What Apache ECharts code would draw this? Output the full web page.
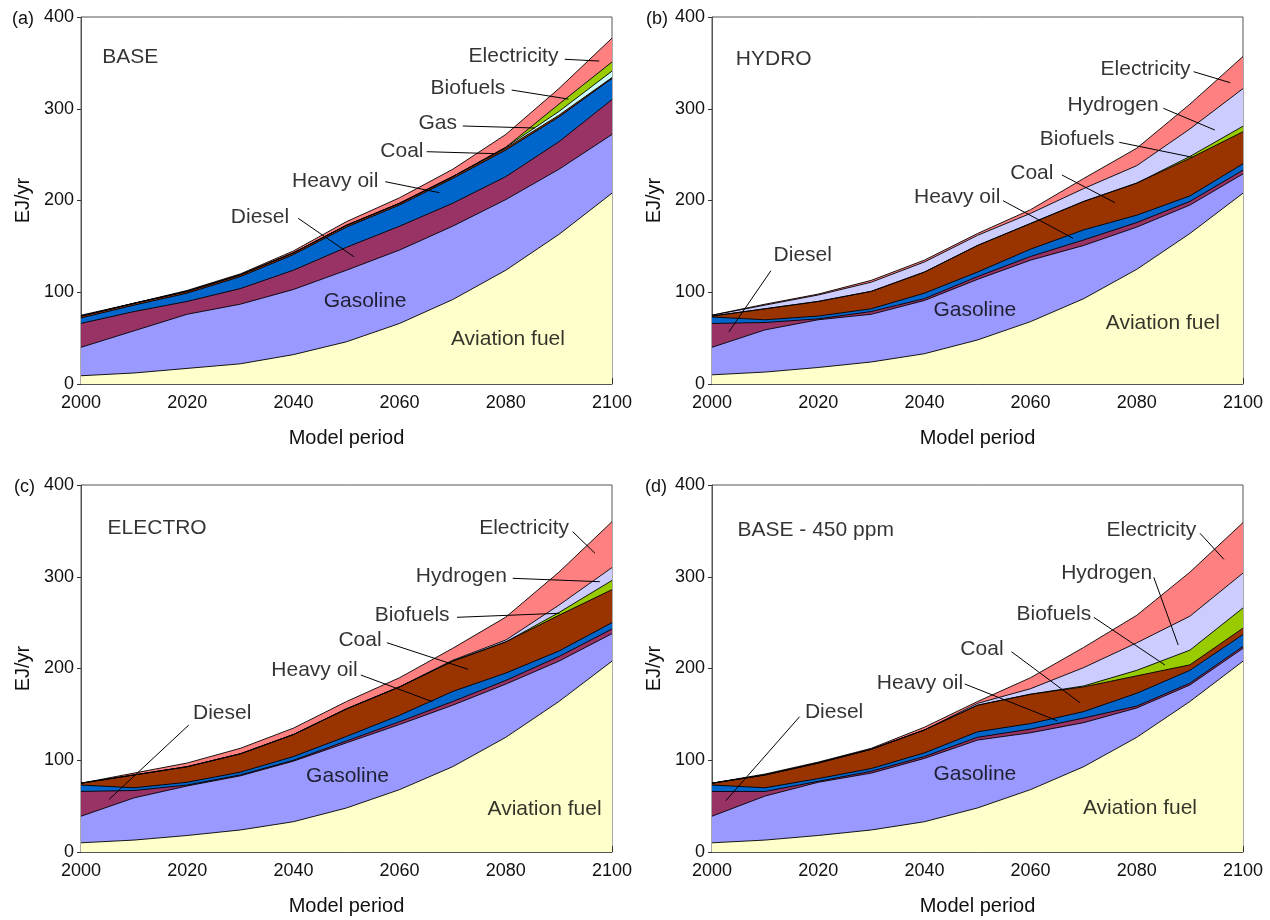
<!DOCTYPE html>
<html><head><meta charset="utf-8">
<script src="https://cdn.jsdelivr.net/npm/echarts@6/dist/echarts.min.js"></script>
<style>html,body{margin:0;padding:0;background:#fff}#c{width:1270px;height:920px}</style>
</head><body><div id="c"></div>
<script>
const years = [2000,2010,2020,2030,2040,2050,2060,2070,2080,2090,2100];
const yTicks = [0,100,200,300,400];
const panelTags = ['(a)','(b)','(c)','(d)'];
const scenarios = ['BASE','HYDRO','ELECTRO','BASE - 450 ppm'];

// (a) BASE  (EJ/yr per layer, stacked bottom to top)
const baseAviation = [9,12,17,22,32,46,66,92,124,163,208];
const baseGasoline = [31,46,59,65,71,78,80,80,77,71,64];
const baseDiesel   = [26,21,14,17,21,25,26,25,25,30,38];
const baseHeavyOil = [6,7,9,13,17,22,23,27,29,27,23];
const baseCoal     = [2,2,2,2,2,2,2,2,2,2,1];
const baseGas      = [0,0,0,0,0,0,0,0,1,4,7];
const baseBiofuels = [0,0,0,0,0,0,0,0,0,8,10];
const baseElectricity = [1,0,1,1,2,4,6,8,14,17,26];

// (b) HYDRO
const hydroAviation = [10,13,18,24,33,48,68,93,125,164,208];
const hydroGasoline = [30,46,52,52,58,66,67,58,46,31,21];
const hydroDiesel   = [26,8,1,3,2,3,4,6,5,4,4];
const hydroHeavyOil = [7,3,3,3,6,5,8,11,8,6,7];
const hydroCoal     = [1,12,16,19,23,29,28,31,35,41,35];
const hydroBiofuels = [0,0,0,0,0,0,0,0,0,2,6];
const hydroHydrogen = [1,4,7,10,11,11,11,14,19,30,41];
const hydroElectricity = [0,1,1,2,2,2,4,11,19,27,35];

// (c) ELECTRO
const electroAviation = [10,13,18,24,33,48,68,93,125,164,208];
const electroGasoline = [29,46,54,59,66,71,71,67,58,44,30];
const electroDiesel   = [27,8,1,1,1,2,3,4,4,5,5];
const electroHeavyOil = [7,3,3,3,4,5,7,11,8,6,7];
const electroCoal     = [2,14,17,20,24,30,31,33,34,39,36];
const electroBiofuels = [0,0,0,0,0,0,0,0,0,3,10];
const electroHydrogen = [0,0,0,0,0,0,0,1,2,8,14];
const electroElectricity = [0,2,4,6,7,8,10,13,25,36,50];

// (d) BASE - 450 ppm
const ppmAviation = [10,13,18,24,33,48,68,93,125,164,208];
const ppmGasoline = [29,48,58,62,69,74,62,48,32,18,14];
const ppmDiesel   = [27,5,1,2,2,3,4,5,2,2,2];
const ppmHeavyOil = [7,4,3,3,4,6,6,7,14,14,13];
const ppmCoal     = [2,14,17,21,25,29,32,27,19,6,7];
const ppmBiofuels = [0,0,0,0,0,0,0,1,6,16,22];
const ppmHydrogen = [0,0,0,0,0,2,6,20,30,37,38];
const ppmElectricity = [0,1,1,1,3,2,12,22,30,48,55];

const COL = {
  'Aviation fuel':'#FFFFCC','Gasoline':'#9999FF','Diesel':'#993366','Heavy oil':'#0066CC',
  'Coal':'#993300','Gas':'#CCFFFF','Biofuels':'#99CC00','Hydrogen':'#CCCCFF','Electricity':'#FF8080'
};

const panels = [
  [['Aviation fuel',baseAviation],['Gasoline',baseGasoline],['Diesel',baseDiesel],['Heavy oil',baseHeavyOil],['Coal',baseCoal],['Gas',baseGas],['Biofuels',baseBiofuels],['Electricity',baseElectricity]],
  [['Aviation fuel',hydroAviation],['Gasoline',hydroGasoline],['Diesel',hydroDiesel],['Heavy oil',hydroHeavyOil],['Coal',hydroCoal],['Biofuels',hydroBiofuels],['Hydrogen',hydroHydrogen],['Electricity',hydroElectricity]],
  [['Aviation fuel',electroAviation],['Gasoline',electroGasoline],['Diesel',electroDiesel],['Heavy oil',electroHeavyOil],['Coal',electroCoal],['Biofuels',electroBiofuels],['Hydrogen',electroHydrogen],['Electricity',electroElectricity]],
  [['Aviation fuel',ppmAviation],['Gasoline',ppmGasoline],['Diesel',ppmDiesel],['Heavy oil',ppmHeavyOil],['Coal',ppmCoal],['Biofuels',ppmBiofuels],['Hydrogen',ppmHydrogen],['Electricity',ppmElectricity]]
];

// annotation labels (data coords) : [text, x, y, anchor] anchor: s=text starts, e=text ends, c=centred
const labelsA = [[scenarios[0],2003.9,356,'s'],['Electricity',2090.0,357.5,'e'],['Biofuels',2080.0,322.3,'e'],['Gas',2070.9,284.1,'e'],['Coal',2064.6,253.2,'e'],['Heavy oil',2056.1,220.5,'e'],['Diesel',2039.3,182.3,'e'],['Gasoline',2053.5,90.5,'c'],['Aviation fuel',2080.4,49.0,'c']];
const leadersA = [[[2091.1,353.9],[2097.6,352.0]],[[2081.1,320.4],[2091.8,310.5]],[[2071.9,281.2],[2085.5,279]],[[2065.1,253.2],[2078.3,251]],[[2057.3,220.5],[2067.5,208.5]],[[2040.9,180.6],[2051.4,138.7]]];
const labelsB = [[scenarios[1],2004.4,354.2,'s'],['Electricity',2090.2,343.0,'e'],['Hydrogen',2084.2,304.1,'e'],['Biofuels',2075.9,267.0,'e'],['Coal',2064.4,229.6,'e'],['Heavy oil',2054.4,203.5,'e'],['Diesel',2011.5,140.6,'s'],['Gasoline',2049.5,79.9,'c'],['Aviation fuel',2084.9,66.8,'c']];
const leadersB = [[[2090.7,340.4],[2097.6,328.4]],[[2085.0,300.5],[2094.7,276.8]],[[2076.7,263.4],[2090.5,247.1]],[[2065.9,227.8],[2075.9,197.6]],[[2054.8,199.8],[2068.0,158.8]],[[2011.1,123.5],[2003.2,57.0]]];
const labelsC = [[scenarios[2],2004.9,352.8,'s'],['Electricity',2092.0,352.8,'e'],['Hydrogen',2080.3,300.8,'e'],['Biofuels',2069.5,258.3,'e'],['Coal',2056.7,231.1,'e'],['Heavy oil',2052.2,198.4,'e'],['Diesel',2021.0,151.8,'s'],['Gasoline',2050.2,82.8,'c'],['Aviation fuel',2087.3,46.5,'c']];
const leadersC = [[[2092.6,349.1],[2096.8,325.6]],[[2081.3,298.3],[2097.7,294.6]],[[2070.8,255.8],[2090.1,260.2]],[[2057.6,228.1],[2072.9,199.1]],[[2052.7,192.9],[2066.2,163.8]],[[2020.3,138.4],[2005.3,57.4]]];
const labelsD = [[scenarios[3],2004.7,350.2,'s'],['Electricity',2091.3,350.2,'e'],['Hydrogen',2083.0,303.8,'e'],['Biofuels',2071.5,259.4,'e'],['Coal',2055.0,220.9,'e'],['Heavy oil',2047.4,184.5,'e'],['Diesel',2017.4,152.9,'s'],['Gasoline',2049.5,85.0,'c'],['Aviation fuel',2080.6,47.6,'c']];
const leadersD = [[[2091.9,347.4],[2096.4,319.0]],[[2083.2,299.4],[2087.8,225.6]],[[2071.9,255.8],[2085.3,203.8]],[[2056.4,218.3],[2069.3,162.7]],[[2047.6,183.1],[2065.0,143.1]],[[2016.5,147.5],[2002.6,55.9]]];
const allLabels = [labelsA,labelsB,labelsC,labelsD];
const allLeaders = [leadersA,leadersB,leadersC,leadersD];

const FONT = '"Liberation Sans", Arial, Helvetica, sans-serif';
const grids = [
  {left:81,top:17,width:531,height:367},
  {left:712,top:17,width:531,height:367},
  {left:81,top:485,width:531,height:367},
  {left:712,top:485,width:531,height:367}
];
const tagPos = [[12,10],[646,10],[14,478],[645,478]];

const xAxis = [], yAxis = [], series = [];
grids.forEach((g,i)=>{
  g.show = true; g.borderColor = '#555'; g.borderWidth = 1; g.backgroundColor = 'transparent';
  xAxis.push({type:'value',gridIndex:i,min:years[0],max:years[years.length-1],interval:10,
    name:'Model period',nameLocation:'middle',nameGap:44,
    nameTextStyle:{fontSize:20,color:'#111',fontFamily:FONT},
    axisLine:{show:true,lineStyle:{color:'#555',width:1}},
    axisTick:{show:true,inside:true,length:6,lineStyle:{color:'#333'}},
    axisLabel:{formatter:v=>(v%20===0?String(v):''),fontSize:18,color:'#111',margin:10,fontFamily:FONT},
    splitLine:{show:false}});
  yAxis.push({type:'value',gridIndex:i,min:yTicks[0],max:yTicks[yTicks.length-1],interval:100,
    name:'EJ/yr',nameLocation:'middle',nameGap:48,nameRotate:90,
    nameTextStyle:{fontSize:20,color:'#111',fontFamily:FONT},
    axisLine:{show:true,lineStyle:{color:'#555',width:1}},
    axisTick:{show:true,inside:false,length:4,lineStyle:{color:'#333'}},
    axisLabel:{fontSize:18,color:'#111',margin:7,fontFamily:FONT},
    splitLine:{show:false}});
  // cumulative tops, drawn from the top layer down so lower layers paint over
  const cum = [];
  let run = years.map(()=>0);
  panels[i].forEach(([name,arr])=>{
    run = run.map((v,k)=>v+arr[k]);
    cum.push([name,run.slice()]);
  });
  cum.slice().reverse().forEach(([name,tops])=>{
    series.push({type:'line',name,xAxisIndex:i,yAxisIndex:i,
      data:years.map((y,k)=>[y,tops[k]]),symbol:'none',silent:true,
      lineStyle:{color:'#000',width:0.9},
      areaStyle:{color:COL[name],opacity:1,origin:'start'},itemStyle:{color:COL[name]},z:2});
  });
  series.push({type:'lines',coordinateSystem:'cartesian2d',xAxisIndex:i,yAxisIndex:i,silent:true,
    data:allLeaders[i].map(c=>({coords:c})),
    lineStyle:{color:'#000',width:1,opacity:1,curveness:0},z:5});
  series.push({type:'scatter',xAxisIndex:i,yAxisIndex:i,symbolSize:1,silent:true,
    itemStyle:{color:'rgba(0,0,0,0)'},z:6,
    data:allLabels[i].map(([t,x,y,a])=>({value:[x,y],name:t,
      label:{position:a==='s'?'right':(a==='e'?'left':'inside')}})),
    label:{show:true,formatter:'{b}',distance:0,fontSize:21,color:'#000',fontFamily:FONT}});
});

const graphic = panelTags.map((t,i)=>({type:'text',left:tagPos[i][0],top:tagPos[i][1],
  style:{text:t,fontSize:18,fill:'#111',font:'18px '+FONT}}));

const chart = echarts.init(document.getElementById('c'),null,{renderer:'canvas'});
chart.setOption({animation:false,grid:grids,xAxis,yAxis,series,graphic});
</script></body></html>
